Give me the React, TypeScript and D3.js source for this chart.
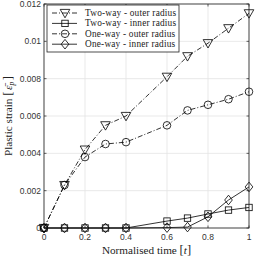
import { useEffect, useRef } from "react";
import * as d3 from "d3";

const times = [0, 0.1, 0.2, 0.3, 0.4, 0.6, 0.7, 0.8, 0.9, 1.0];
const twoWayOuter = [0, 0.0023, 0.0042, 0.0055, 0.006, 0.0081, 0.0092, 0.0099, 0.0107, 0.0115];
const twoWayInner = [0, 0, 0, 0, 0, 0.00037, 0.00053, 0.00075, 0.00096, 0.0011];
const oneWayOuter = [0, 0.0023, 0.0038, 0.0045, 0.0046, 0.0055, 0.0063, 0.0066, 0.0069, 0.0073];
const oneWayInner = [0, 0, 0, 0, 0, 0.00002, 0.00005, 0.0006, 0.0015, 0.0022];
const seriesNames = [
  "Two-way - outer radius",
  "Two-way - inner radius",
  "One-way - outer radius",
  "One-way - inner radius",
];
const xTicks = [0, 0.2, 0.4, 0.6, 0.8, 1];
const yTicks = [0, 0.002, 0.004, 0.006, 0.008, 0.01, 0.012];

type Marker = "tri" | "square" | "circle" | "diamond";

export default function App() {
  const ref = useRef<SVGSVGElement | null>(null);

  useEffect(() => {
    if (!ref.current) return;
    const width = 255;
    const height = 258;
    const margin = { top: 4, right: 6, bottom: 30, left: 44 };

    const svg = d3.select(ref.current).attr("viewBox", `0 0 ${width} ${height}`);
    svg.selectAll("*").remove();

    const x = d3.scaleLinear().domain([0, 1]).range([margin.left, width - margin.right]);
    const y = d3.scaleLinear().domain([0, 0.012]).range([height - margin.bottom, margin.top]);

    const sans = "'Liberation Sans', Arial, sans-serif";
    const serif = "'Liberation Serif', 'Times New Roman', serif";

    /* grid */
    svg.selectAll(".gx").data(xTicks).enter().append("line")
      .attr("x1", d => x(d)).attr("x2", d => x(d))
      .attr("y1", y(0)).attr("y2", y(0.012))
      .attr("stroke", "#e3e3e3").attr("stroke-width", 0.8);
    svg.selectAll(".gy").data(yTicks).enter().append("line")
      .attr("x1", x(0)).attr("x2", x(1))
      .attr("y1", d => y(d)).attr("y2", d => y(d))
      .attr("stroke", "#e3e3e3").attr("stroke-width", 0.8);

    /* ticks inside */
    const tl = 2.5;
    xTicks.forEach(t => {
      svg.append("line").attr("x1", x(t)).attr("x2", x(t)).attr("y1", y(0)).attr("y2", y(0) - tl).attr("stroke", "#222").attr("stroke-width", 0.7);
      svg.append("line").attr("x1", x(t)).attr("x2", x(t)).attr("y1", y(0.012)).attr("y2", y(0.012) + tl).attr("stroke", "#222").attr("stroke-width", 0.7);
    });
    yTicks.forEach(t => {
      svg.append("line").attr("x1", x(0)).attr("x2", x(0) + tl).attr("y1", y(t)).attr("y2", y(t)).attr("stroke", "#222").attr("stroke-width", 0.7);
      svg.append("line").attr("x1", x(1)).attr("x2", x(1) - tl).attr("y1", y(t)).attr("y2", y(t)).attr("stroke", "#222").attr("stroke-width", 0.7);
    });

    /* tick labels */
    svg.selectAll(".xl").data(xTicks).enter().append("text")
      .attr("x", d => x(d)).attr("y", y(0) + 12)
      .attr("text-anchor", "middle").attr("font-family", sans).attr("font-size", 8.5)
      .attr("fill", "#333")
      .text(d => d3.format("~g")(d));
    svg.selectAll(".yl").data(yTicks).enter().append("text")
      .attr("x", x(0) - 3).attr("y", d => y(d) + 3)
      .attr("text-anchor", "end").attr("font-family", sans).attr("font-size", 8.5)
      .attr("fill", "#333")
      .text(d => (d === 0 ? "0" : d3.format("~g")(d)));

    /* axis labels */
    const xl = svg.append("text")
      .attr("x", (x(0) + x(1)) / 2).attr("y", height - 4)
      .attr("text-anchor", "middle").attr("font-family", serif).attr("font-size", 11.2).attr("fill", "#222");
    xl.append("tspan").text("Normalised time ");
    xl.append("tspan").attr("font-size", 12.5).text("[");
    xl.append("tspan").attr("font-style", "italic").text("t");
    xl.append("tspan").attr("font-size", 12.5).text("]");

    const yl = svg.append("text")
      .attr("transform", `translate(${11.5},${(y(0) + y(0.012)) / 2}) rotate(-90)`)
      .attr("text-anchor", "middle").attr("font-family", serif).attr("font-size", 11.2).attr("fill", "#222");
    yl.append("tspan").text("Plastic strain ");
    yl.append("tspan").attr("font-size", 13).text("[");
    yl.append("tspan").attr("font-style", "italic").attr("dx", 1.5).text("\u03B5\u0304");
    yl.append("tspan").attr("font-style", "italic").attr("font-size", 7.5).attr("dy", 2).text("p");
    yl.append("tspan").attr("font-size", 13).attr("dy", -2).attr("dx", 1.5).text("]");

    /* markers */
    const drawMarker = (g: any, m: Marker, cx: number, cy: number) => {
      const common = (s: any) => s.attr("fill", "none").attr("stroke", "#000").attr("stroke-width", 0.8);
      if (m === "tri") {
        const s = 4.8;
        common(g.append("path").attr("d", `M${cx - s},${cy - s * 0.75} L${cx + s},${cy - s * 0.75} L${cx},${cy + s} Z`));
      } else if (m === "square") {
        const s = 3.2;
        common(g.append("rect").attr("x", cx - s).attr("y", cy - s).attr("width", 2 * s).attr("height", 2 * s));
      } else if (m === "circle") {
        common(g.append("circle").attr("cx", cx).attr("cy", cy).attr("r", 3.8));
      } else {
        const s = 4.8;
        common(g.append("path").attr("d", `M${cx},${cy - s} L${cx + s * 0.8},${cy} L${cx},${cy + s} L${cx - s * 0.8},${cy} Z`));
      }
    };

    const series: { vals: number[]; marker: Marker; dash: string | null }[] = [
      { vals: twoWayOuter, marker: "tri", dash: "5,2,1,2" },
      { vals: twoWayInner, marker: "square", dash: null },
      { vals: oneWayOuter, marker: "circle", dash: "5,2,1,2" },
      { vals: oneWayInner, marker: "diamond", dash: null },
    ];

    const line = d3.line<number>().x((_, i) => x(times[i])).y(d => y(d));

    series.forEach(s => {
      const g = svg.append("g");
      g.append("path").datum(s.vals).attr("d", line).attr("fill", "none")
        .attr("stroke", "#000").attr("stroke-width", 0.8)
        .attr("stroke-dasharray", s.dash ?? null);
      s.vals.forEach((v, i) => drawMarker(g, s.marker, x(times[i]), y(v)));
    });

    /* box */
    svg.append("rect").attr("x", x(0)).attr("y", y(0.012))
      .attr("width", x(1) - x(0)).attr("height", y(0) - y(0.012))
      .attr("fill", "none").attr("stroke", "#222").attr("stroke-width", 0.8);

    /* legend */
    const lx = 47, ly = 5, lw = 132, lh = 47;
    const lg = svg.append("g");
    lg.append("rect").attr("x", lx).attr("y", ly).attr("width", lw).attr("height", lh)
      .attr("fill", "#fff").attr("stroke", "#222").attr("stroke-width", 0.8);
    series.forEach((s, i) => {
      const yy = ly + 8 + i * 10.4;
      lg.append("line").attr("x1", lx + 5).attr("x2", lx + 30).attr("y1", yy).attr("y2", yy)
        .attr("stroke", "#000").attr("stroke-width", 0.8).attr("stroke-dasharray", s.dash ?? null);
      drawMarker(lg, s.marker, lx + 18, yy);
      lg.append("text").attr("x", lx + 38).attr("y", yy + 3)
        .attr("font-family", serif).attr("font-size", 9.3).attr("letter-spacing", 0.2).attr("fill", "#222")
        .text(seriesNames[i]);
    });
  }, []);

  return (
    <div style={{ position: "fixed", left: 0, top: 0, width: 255, height: 258, background: "#fff" }}>
      <svg ref={ref} width={255} height={258} style={{ display: "block" }} />
    </div>
  );
}
